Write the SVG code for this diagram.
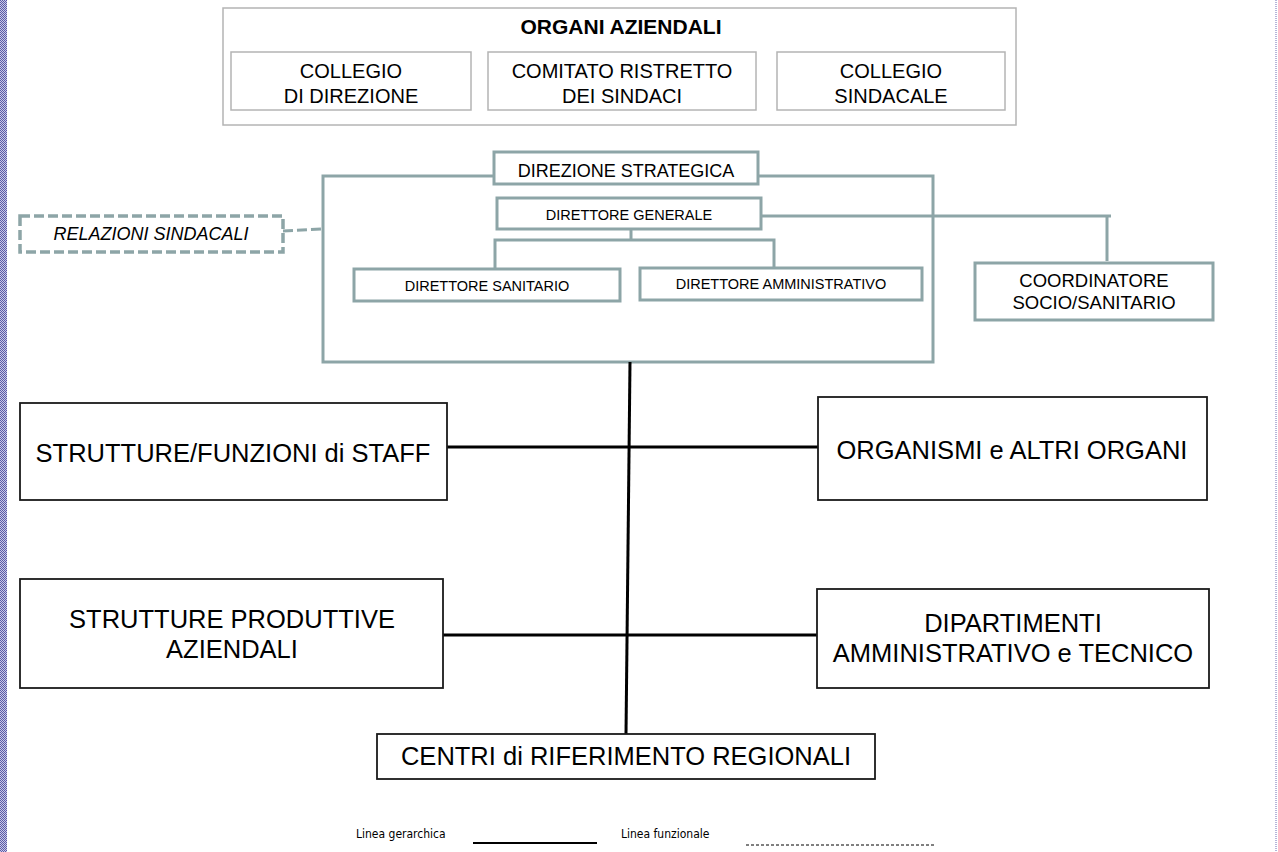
<svg xmlns="http://www.w3.org/2000/svg" width="1278" height="852" viewBox="0 0 1278 852">
<defs>
<pattern id="chk" width="2" height="2" patternUnits="userSpaceOnUse">
<rect width="2" height="2" fill="#c9c9e6"/>
<rect width="1" height="1" fill="#5b5ba8"/>
<rect x="1" y="1" width="1" height="1" fill="#5b5ba8"/>
</pattern>
<style>
.org{fill:#fff;stroke:#b4b4b4;stroke-width:1.5}
.teal{fill:#fff;stroke:#8da5a7;stroke-width:3}
.frame{fill:none;stroke:#8da5a7;stroke-width:3}
.blk{fill:#fff;stroke:#1a1a1a;stroke-width:1.8}
.t{font-family:"Liberation Sans",Arial,sans-serif;fill:#000;text-anchor:middle}
.tc{stroke:#8da5a7;stroke-width:3;fill:none}
.bc{stroke:#000;stroke-width:3;fill:none}
.leg{font-family:"DejaVu Sans Condensed","DejaVu Sans",sans-serif;font-size:12px;fill:#000}
</style>
</defs>
<rect width="1278" height="852" fill="#fff"/>
<rect x="0" y="0" width="7" height="852" fill="url(#chk)"/>
<line x1="1276" y1="0" x2="1276" y2="852" stroke="#6a6ab4" stroke-width="1" stroke-dasharray="1 1"/>

<g id="organi-aziendali">
<rect class="org" x="223" y="8" width="793" height="117"/>
<text class="t" x="621" y="34" font-size="21" font-weight="bold">ORGANI AZIENDALI</text>
</g>
<g id="collegio-direzione">
<rect class="org" x="231" y="52" width="240" height="58"/>
<text class="t" x="351" y="78" font-size="20">COLLEGIO</text>
<text class="t" x="351" y="103" font-size="20">DI DIREZIONE</text>
</g>
<g id="comitato-ristretto">
<rect class="org" x="488" y="52" width="268" height="58"/>
<text class="t" x="622" y="78" font-size="20">COMITATO RISTRETTO</text>
<text class="t" x="622" y="103" font-size="20">DEI SINDACI</text>
</g>
<g id="collegio-sindacale">
<rect class="org" x="777" y="52" width="228" height="58"/>
<text class="t" x="891" y="78" font-size="20">COLLEGIO</text>
<text class="t" x="891" y="103" font-size="20">SINDACALE</text>
</g>

<g id="direzione-strategica">
<rect class="frame" x="323" y="176" width="610" height="186"/>
<rect class="teal" x="494" y="152" width="264" height="32"/>
<text class="t" x="626" y="177" font-size="18">DIREZIONE STRATEGICA</text>
</g>

<g id="connectors">
<line class="tc" x1="631" y1="229" x2="631" y2="240"/>
<polyline class="tc" points="495,269 495,240 774,240 774,268"/>
<polyline class="tc" points="761,216 1111,216"/>
<line class="tc" x1="1107" y1="216" x2="1107" y2="261"/>
<polyline class="tc" points="283,231 323,229" stroke-dasharray="10 4" stroke-width="3.5"/>
<line class="bc" x1="630" y1="362" x2="626" y2="734"/>
<line class="bc" x1="447" y1="447" x2="818" y2="447"/>
<line class="bc" x1="443" y1="635" x2="817" y2="635"/>
</g>

<g id="direttore-generale">
<rect class="teal" x="497" y="198" width="264" height="31"/>
<text class="t" x="629" y="220" font-size="14.5">DIRETTORE GENERALE</text>
</g>
<g id="direttore-sanitario">
<rect class="teal" x="354" y="269" width="266" height="32"/>
<text class="t" x="487" y="291" font-size="14.5">DIRETTORE SANITARIO</text>
</g>
<g id="direttore-amministrativo">
<rect class="teal" x="640" y="268" width="282" height="32"/>
<text class="t" x="781" y="289" font-size="14.5">DIRETTORE AMMINISTRATIVO</text>
</g>
<g id="coordinatore">
<rect class="teal" x="975" y="263" width="238" height="57" stroke-width="4"/>
<text class="t" x="1094" y="287" font-size="18.5">COORDINATORE</text>
<text class="t" x="1094" y="309" font-size="18.5">SOCIO/SANITARIO</text>
</g>
<g id="relazioni-sindacali">
<rect x="20" y="216" width="263" height="36" fill="#fff" stroke="#8da5a7" stroke-width="3.5" stroke-dasharray="10 4"/>
<text class="t" x="151" y="240" font-size="18" font-style="italic">RELAZIONI SINDACALI</text>
</g>

<g id="staff">
<rect class="blk" x="20" y="403" width="427" height="97"/>
<text class="t" x="233" y="462" font-size="25.5">STRUTTURE/FUNZIONI di STAFF</text>
</g>
<g id="organismi">
<rect class="blk" x="818" y="397" width="389" height="103"/>
<text class="t" x="1012" y="459" font-size="25.5">ORGANISMI e ALTRI ORGANI</text>
</g>
<g id="strutture-produttive">
<rect class="blk" x="20" y="579" width="423" height="109"/>
<text class="t" x="232" y="628" font-size="25.5">STRUTTURE PRODUTTIVE</text>
<text class="t" x="232" y="658" font-size="25.5">AZIENDALI</text>
</g>
<g id="dipartimenti">
<rect class="blk" x="817" y="589" width="392" height="99"/>
<text class="t" x="1013" y="632" font-size="25.5">DIPARTIMENTI</text>
<text class="t" x="1013" y="662" font-size="25.5">AMMINISTRATIVO e TECNICO</text>
</g>
<g id="centri">
<rect class="blk" x="377" y="734" width="498" height="45"/>
<text class="t" x="626" y="765" font-size="25.5">CENTRI di RIFERIMENTO REGIONALI</text>
</g>

<g id="legend">
<text class="leg" x="356" y="838">Linea gerarchica</text>
<line x1="473" y1="843" x2="597" y2="843" stroke="#000" stroke-width="2"/>
<text class="leg" x="621" y="838">Linea funzionale</text>
<line x1="746" y1="845" x2="935" y2="845" stroke="#000" stroke-width="1" stroke-dasharray="3 2"/>
</g>
</svg>
